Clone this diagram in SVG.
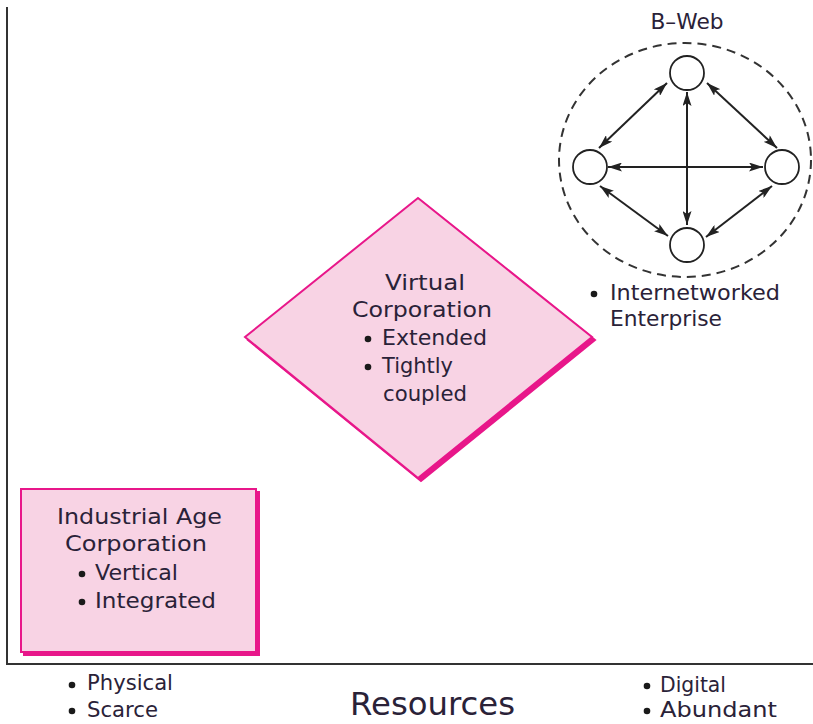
<svg xmlns="http://www.w3.org/2000/svg" width="813" height="724" viewBox="0 0 813 724">
<defs>
<style>
.t{font-family:"DejaVu Sans","Liberation Sans",sans-serif;font-size:22px;fill:#2a2238}
.mid{text-anchor:middle}
.bul{fill:#1a1a1a}
.shape{fill:#f8d3e4;stroke:#e8178a;stroke-width:2}
.shadow{fill:#e8178a;stroke:#e8178a;stroke-width:2}
.node{fill:#fff;stroke:#222;stroke-width:1.8}
.conn{stroke:#222;stroke-width:2;fill:none;marker-start:url(#ah);marker-end:url(#ah)}
</style>
<marker id="ah" viewBox="0 0 14 9" refX="14" refY="4.5" markerWidth="14" markerHeight="9" markerUnits="userSpaceOnUse" orient="auto-start-reverse">
<path d="M0,0 L14,4.5 L0,9 L3,4.5 Z" fill="#222"/>
</marker>
</defs>
<rect width="813" height="724" fill="#fff"/>
<g id="axes" stroke="#333" stroke-width="2" fill="none">
<path d="M7,7 V664 H813"/>
</g>
<g id="industrial">
<rect class="shadow" x="24" y="492" width="235" height="163"/>
<rect class="shape" x="21" y="489" width="235" height="163"/>
<text class="t mid" x="139.5" y="524" textLength="165" lengthAdjust="spacingAndGlyphs">Industrial Age</text>
<text class="t mid" x="136" y="551" textLength="142" lengthAdjust="spacingAndGlyphs">Corporation</text>
<circle class="bul" cx="82" cy="574" r="3.3"/>
<text class="t" x="95" y="580" textLength="83" lengthAdjust="spacingAndGlyphs">Vertical</text>
<circle class="bul" cx="82" cy="602" r="3.3"/>
<text class="t" x="95" y="608" textLength="121" lengthAdjust="spacingAndGlyphs">Integrated</text>
</g>
<g id="virtual">
<polygon class="shadow" points="421,201 595,340 421,481 248,340"/>
<polygon class="shape" points="418,198 592,337 418,478 245,337"/>
<text class="t mid" x="425" y="290" textLength="80" lengthAdjust="spacingAndGlyphs">Virtual</text>
<text class="t mid" x="422" y="317" textLength="140" lengthAdjust="spacingAndGlyphs">Corporation</text>
<circle class="bul" cx="368" cy="339" r="3.3"/>
<text class="t" x="382" y="345" textLength="105" lengthAdjust="spacingAndGlyphs">Extended</text>
<circle class="bul" cx="368" cy="367" r="3.3"/>
<text class="t" x="382" y="373" textLength="71" lengthAdjust="spacingAndGlyphs">Tightly</text>
<text class="t" x="383" y="401" textLength="84" lengthAdjust="spacingAndGlyphs">coupled</text>
</g>
<g id="bweb">
<ellipse cx="685" cy="160" rx="126" ry="117" fill="none" stroke="#333" stroke-width="2" stroke-dasharray="9 6"/>
<text class="t mid" x="687" y="29" style="font-size:21px" textLength="73" lengthAdjust="spacingAndGlyphs">B–Web</text>
<circle class="bul" cx="594" cy="294" r="3.3"/>
<text class="t" x="610" y="300" textLength="170" lengthAdjust="spacingAndGlyphs">Internetworked</text>
<text class="t" x="610" y="326" textLength="112" lengthAdjust="spacingAndGlyphs">Enterprise</text>
</g>
<g id="connectors">
<line class="conn" x1="687" y1="92" x2="687" y2="225"/>
<line class="conn" x1="608" y1="167" x2="763" y2="167"/>
<line class="conn" x1="667" y1="83" x2="599" y2="148"/>
<line class="conn" x1="707" y1="83" x2="777" y2="148"/>
<line class="conn" x1="600" y1="186" x2="668" y2="236"/>
<line class="conn" x1="772" y1="186" x2="706" y2="237"/>
</g>
<g id="node-top"><circle class="node" cx="687" cy="73" r="17"/></g>
<g id="node-left"><circle class="node" cx="590" cy="167" r="17"/></g>
<g id="node-right"><circle class="node" cx="782" cy="167" r="17"/></g>
<g id="node-bottom"><circle class="node" cx="687" cy="245" r="17"/></g>
<g id="axis-labels">
<circle class="bul" cx="72" cy="685" r="3.3"/>
<text class="t" x="87" y="690" textLength="86" lengthAdjust="spacingAndGlyphs">Physical</text>
<circle class="bul" cx="72" cy="711" r="3.3"/>
<text class="t" x="87" y="717" textLength="71" lengthAdjust="spacingAndGlyphs">Scarce</text>
<text class="t" x="350" y="715" style="font-size:32px" textLength="165" lengthAdjust="spacingAndGlyphs">Resources</text>
<circle class="bul" cx="647" cy="686" r="3.3"/>
<text class="t" x="660" y="692" textLength="66" lengthAdjust="spacingAndGlyphs">Digital</text>
<circle class="bul" cx="647" cy="711" r="3.3"/>
<text class="t" x="660" y="717" textLength="117" lengthAdjust="spacingAndGlyphs">Abundant</text>
</g>
</svg>
